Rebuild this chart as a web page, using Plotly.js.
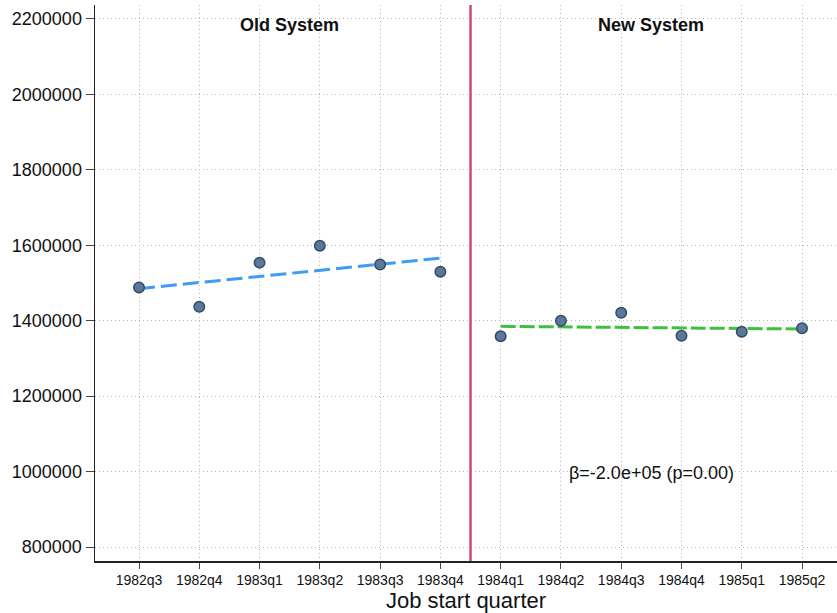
<!DOCTYPE html>
<html>
<head>
<meta charset="utf-8">
<script src="https://cdn.plot.ly/plotly-3.0.1.min.js"></script>
<style>
  html, body { margin: 0; padding: 0; background: #fff; }
  #chart { width: 837px; height: 613px; }
</style>
</head>
<body>
<div id="chart"></div>
<script>
// quarters, split at the system change
const quarters = ["1982q3", "1982q4", "1983q1", "1983q2", "1983q3", "1983q4",
  "1984q1", "1984q2", "1984q3", "1984q4", "1985q1", "1985q2"];
const oldQuarters = quarters.slice(0, 6);
const newQuarters = quarters.slice(6);

// mean value per quarter
const oldValues = [1488000, 1437000, 1554000, 1599000, 1549000, 1530000];
const newValues = [1359000, 1400000, 1421000, 1360000, 1371000, 1380000];

// fitted line endpoints
const oldFitX = ["1982q3", "1983q4"];
const oldFitY = [1485000, 1566000];
const newFitX = ["1984q1", "1985q2"];
const newFitY = [1385000, 1378000];

const yTicks = [800000, 1000000, 1200000, 1400000, 1600000, 1800000, 2000000, 2200000];
const betaLabel = "β=-2.0e+05 (p=0.00)";

const markerStyle = {
  size: 10.5,
  color: "#5b7896",
  line: { color: "#2f4c6c", width: 1.5 },
};

const data = [
  {
    type: "scatter", mode: "lines",
    x: oldFitX, y: oldFitY,
    line: { color: "#3f9cf4", width: 3, dash: "16px,6px" },
    hoverinfo: "skip",
  },
  {
    type: "scatter", mode: "lines",
    x: newFitX, y: newFitY,
    line: { color: "#3fbf3f", width: 3, dash: "15px,4px" },
    hoverinfo: "skip",
  },
  {
    type: "scatter", mode: "markers",
    x: oldQuarters, y: oldValues,
    marker: markerStyle,
  },
  {
    type: "scatter", mode: "markers",
    x: newQuarters, y: newValues,
    marker: markerStyle,
  },
];

const layout = {
  width: 837,
  height: 613,
  showlegend: false,
  margin: { l: 95, r: 0, t: 5, b: 52 },
  paper_bgcolor: "#ffffff",
  plot_bgcolor: "#ffffff",
  font: { family: "Liberation Sans, Arial, sans-serif", color: "#111" },
  xaxis: {
    type: "category",
    categoryorder: "array",
    categoryarray: quarters,
    range: [-0.73, 11.58],
    showgrid: true,
    gridcolor: "#b8b8b8",
    griddash: "1px,3px",
    gridwidth: 1,
    zeroline: false,
    showline: true,
    linecolor: "#222",
    linewidth: 1.5,
    ticks: "outside",
    ticklen: 6,
    tickcolor: "#444",
    tickfont: { size: 14, color: "#111" },
    title: {
      text: "Job start quarter",
      font: { size: 22, color: "#111" },
      standoff: 2,
    },
  },
  yaxis: {
    range: [762900, 2237100],
    tickvals: yTicks,
    ticktext: yTicks.map(String),
    showgrid: true,
    gridcolor: "#b8b8b8",
    griddash: "1px,3px",
    gridwidth: 1,
    zeroline: false,
    showline: true,
    linecolor: "#222",
    linewidth: 1.5,
    ticks: "outside",
    ticklen: 8,
    tickcolor: "#444",
    tickfont: { size: 18, color: "#111" },
  },
  shapes: [
    {
      type: "line",
      xref: "x", yref: "paper",
      x0: 5.5, x1: 5.5, y0: 0, y1: 1,
      line: { color: "#d0486d", width: 2.5 },
    },
  ],
  annotations: [
    {
      text: "<b>Old System</b>",
      xref: "x", yref: "y",
      x: 2.5, y: 2185000,
      showarrow: false,
      font: { size: 18, color: "#111" },
    },
    {
      text: "<b>New System</b>",
      xref: "x", yref: "y",
      x: 8.5, y: 2185000,
      showarrow: false,
      font: { size: 18, color: "#111" },
    },
    {
      text: betaLabel,
      xref: "x", yref: "y",
      x: 8.5, y: 995000,
      showarrow: false,
      font: { size: 18, color: "#111" },
    },
  ],
};

Plotly.newPlot("chart", data, layout, { displayModeBar: false, staticPlot: true });
</script>
</body>
</html>
